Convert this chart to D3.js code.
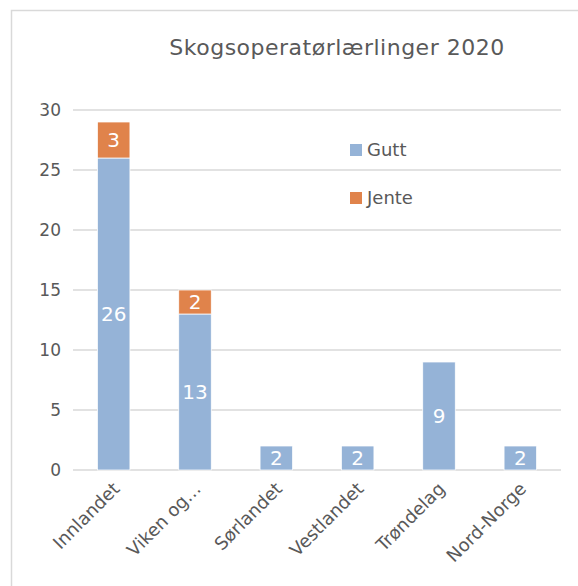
<!DOCTYPE html>
<html>
<head>
<meta charset="utf-8">
<script src="https://cdn.jsdelivr.net/npm/d3@7"></script>
<style>
  body { margin: 0; background: #fff; }
  svg { font-family: "DejaVu Sans", Lato, sans-serif; }
</style>
</head>
<body>
<div id="chart"></div>
<script>
// chart data
var categories = ["Innlandet", "Viken og…", "Sørlandet", "Vestlandet", "Trøndelag", "Nord-Norge"];
var gutt = [26, 13, 2, 2, 9, 2];
var jente = [3, 2, 0, 0, 0, 0];
var seriesNames = ["Gutt", "Jente"];
var yTicks = [0, 5, 10, 15, 20, 25, 30];
var title = "Skogsoperatørlærlinger 2020";

var colors = { Gutt: "#95b3d7", Jente: "#e0834b" };

var width = 578, height = 586;

var svg = d3.select("#chart")
  .append("svg")
  .attr("width", width)
  .attr("height", height);

// outer chart border
svg.append("rect")
  .attr("x", 11.5).attr("y", 10.5)
  .attr("width", 600).attr("height", 600)
  .attr("fill", "none")
  .attr("stroke", "#d9d9d9")
  .attr("stroke-width", 1.5);

// scales
var x = d3.scaleBand()
  .domain(categories)
  .range([73, 561])
  .paddingInner(0.6)
  .paddingOuter(0.3);

var y = d3.scaleLinear()
  .domain([0, 30])
  .range([470, 110]);

// gridlines
svg.append("g")
  .selectAll("line")
  .data(yTicks)
  .enter()
  .append("line")
  .attr("x1", 73).attr("x2", 561)
  .attr("y1", function(d) { return y(d); })
  .attr("y2", function(d) { return y(d); })
  .attr("stroke", "#d9d9d9")
  .attr("stroke-width", 1.5);

// y axis labels
svg.append("g")
  .selectAll("text")
  .data(yTicks)
  .enter()
  .append("text")
  .attr("x", 61)
  .attr("y", function(d) { return y(d); })
  .attr("dy", "0.36em")
  .attr("text-anchor", "end")
  .attr("font-size", 17)
  .attr("fill", "#595959")
  .text(function(d) { return d; });

// stack the data
var rows = categories.map(function(c, i) {
  return { cat: c, Gutt: gutt[i], Jente: jente[i] };
});
var stack = d3.stack().keys(seriesNames)(rows);

var layers = svg.append("g")
  .selectAll("g")
  .data(stack)
  .enter()
  .append("g")
  .attr("fill", function(d) { return colors[d.key]; });

layers.selectAll("rect")
  .data(function(d) { return d; })
  .enter()
  .filter(function(d) { return d[1] - d[0] > 0; })
  .append("rect")
  .attr("x", function(d) { return x(d.data.cat); })
  .attr("width", x.bandwidth())
  .attr("y", function(d) { return y(d[1]); })
  .attr("height", function(d) { return y(d[0]) - y(d[1]); })
  .attr("stroke", "#fff")
  .attr("stroke-width", 0.75);

// value labels
layers.selectAll("text")
  .data(function(d) { return d; })
  .enter()
  .filter(function(d) { return d[1] - d[0] > 0; })
  .append("text")
  .attr("x", function(d) { return x(d.data.cat) + x.bandwidth() / 2; })
  .attr("y", function(d) { return (y(d[0]) + y(d[1])) / 2; })
  .attr("dy", "0.36em")
  .attr("text-anchor", "middle")
  .attr("font-size", 20)
  .attr("fill", "#fff")
  .text(function(d) { return d[1] - d[0]; });

// x axis labels
svg.append("g")
  .selectAll("text")
  .data(categories)
  .enter()
  .append("text")
  .attr("transform", function(d) {
    return "translate(" + (x(d) + x.bandwidth() / 2 + 7) + ",490) rotate(-45)";
  })
  .attr("text-anchor", "end")
  .attr("font-size", 18)
  .attr("fill", "#595959")
  .text(function(d) { return d; });

// title
svg.append("text")
  .attr("x", 337)
  .attr("y", 55)
  .attr("text-anchor", "middle")
  .attr("font-size", 22)
  .attr("letter-spacing", 0.5)
  .attr("fill", "#595959")
  .text(title);

// legend
var legend = svg.append("g")
  .selectAll("g")
  .data(seriesNames)
  .enter()
  .append("g")
  .attr("transform", function(d, i) { return "translate(350," + (150 + i * 48) + ")"; });

legend.append("rect")
  .attr("x", 0).attr("y", -6)
  .attr("width", 12).attr("height", 12)
  .attr("fill", function(d) { return colors[d]; });

legend.append("text")
  .attr("x", 17)
  .attr("y", 0)
  .attr("dy", "0.36em")
  .attr("font-size", 18)
  .attr("fill", "#595959")
  .text(function(d) { return d; });
</script>
</body>
</html>
